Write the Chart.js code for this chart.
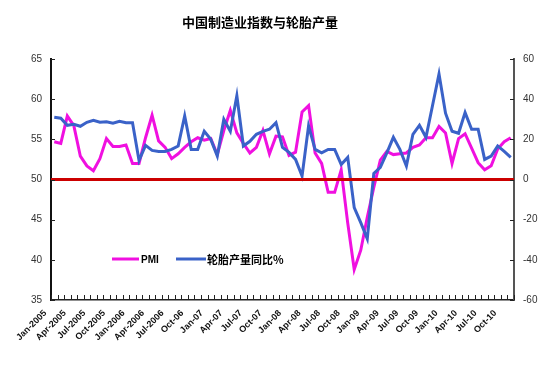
<!DOCTYPE html>
<html>
<head>
<meta charset="utf-8">
<script src="https://cdn.jsdelivr.net/npm/chart.js@4"></script>
<style>
  html, body { margin: 0; padding: 0; background: #fff; }
  #wrap { width: 550px; height: 367px; position: relative; }
</style>
</head>
<body>
<div id="wrap"><canvas id="pmiTyre"></canvas></div>
<script>
// month labels Jan-2005 .. Nov-2010 (format as on the original axis)
const months = [
  'Jan-2005','Feb-2005','Mar-2005','Apr-2005','May-2005','Jun-2005','Jul-2005','Aug-2005','Sep-2005','Oct-2005','Nov-2005','Dec-2005',
  'Jan-2006','Feb-2006','Mar-2006','Apr-2006','May-2006','Jun-2006','Jul-2006','Aug-2006','Sep-2006','Oct-06','Nov-06','Dec-06',
  'Jan-07','Feb-07','Mar-07','Apr-07','May-07','Jun-07','Jul-07','Aug-07','Sep-07','Oct-07','Nov-07','Dec-07',
  'Jan-08','Feb-08','Mar-08','Apr-08','May-08','Jun-08','Jul-08','Aug-08','Sep-08','Oct-08','Nov-08','Dec-08',
  'Jan-09','Feb-09','Mar-09','Apr-09','May-09','Jun-09','Jul-09','Aug-09','Sep-09','Oct-09','Nov-09','Dec-09',
  'Jan-10','Feb-10','Mar-10','Apr-10','May-10','Jun-10','Jul-10','Aug-10','Sep-10','Oct-10','Nov-10'
];

// PMI (left axis)
const pmi = [
  54.7, 54.5, 57.9, 56.7, 52.9, 51.7, 51.1, 52.6, 55.1, 54.1, 54.1, 54.3,
  52.0, 52.0, 55.2, 58.0, 54.8, 54.0, 52.6, 53.2, 54.0, 54.7, 55.2, 54.9,
  55.1, 53.1, 56.1, 58.6, 55.8, 54.5, 53.3, 54.0, 56.1, 53.2, 55.4, 55.3,
  53.0, 53.4, 58.4, 59.2, 53.3, 52.0, 48.4, 48.4, 51.2, 44.6, 38.8, 41.2,
  45.3, 49.0, 52.4, 53.5, 53.1, 53.2, 53.3, 54.0, 54.3, 55.2, 55.2, 56.6,
  55.8, 52.0, 55.1, 55.7, 53.9, 52.1, 51.2, 51.7, 53.8, 54.7, 55.2
];

// 轮胎产量同比% (right axis)
const tyreYoY = [
  31, 30.5, 27, 27.5, 26.5, 28.5, 29.5, 28.5, 28.7, 28, 29, 28.3,
  28.3, 9.5, 17, 14.5, 14, 14, 15, 16.7, 31.7, 15, 15, 24,
  20, 11.7, 30, 24, 41.7, 16.7, 19, 22.5, 24, 25, 28.3, 16,
  13.5, 10, 1.7, 26.7, 15, 13.3, 15, 15, 7.5, 11, -14, -21.5,
  -29.5, 3, 6, 13.3, 21, 15, 6.7, 22.5, 27, 21, 36.7, 52.5,
  33, 24, 23, 33.3, 25, 25, 10, 11.7, 16.7, 14, 11
];

const leftTicks = [35, 40, 45, 50, 55, 60, 65];
const rightTicks = [-60, -40, -20, 0, 20, 40, 60];
const refLine = 50; // 荣枯线

const title = '中国制造业指数与轮胎产量';
const seriesNames = ['PMI', '轮胎产量同比%'];
const colPmi = '#f010e0';
const colTyre = '#3a62c8';

// extra drawing: title, 50 line, inward ticks, legend
const extras = {
  id: 'extras',
  afterDatasetsDraw(chart) {
    const ctx = chart.ctx;
    const a = chart.chartArea;
    const x = chart.scales.x, y = chart.scales.y, y1 = chart.scales.y1;
    ctx.save();
    // reference line
    const ry = y.getPixelForValue(refLine);
    ctx.strokeStyle = '#cc0000';
    ctx.lineWidth = 3;
    ctx.beginPath();
    ctx.moveTo(a.left, ry);
    ctx.lineTo(a.right, ry);
    ctx.stroke();
    // ticks pointing inward
    ctx.strokeStyle = '#222';
    ctx.lineWidth = 1;
    ctx.beginPath();
    leftTicks.forEach(v => {
      const p = Math.round(y.getPixelForValue(v)) + 0.5;
      ctx.moveTo(a.left, p); ctx.lineTo(a.left + 4, p);
    });
    rightTicks.forEach(v => {
      const p = Math.round(y1.getPixelForValue(v)) + 0.5;
      ctx.moveTo(a.right, p); ctx.lineTo(a.right - 4, p);
    });
    const n = months.length;
    for (let i = 0; i <= n; i++) {
      const p = Math.round(x.getPixelForValue(i - 0.5)) + 0.5;
      ctx.moveTo(p, a.bottom); ctx.lineTo(p, a.bottom - 5);
    }
    ctx.stroke();
    // legend
    const ly = 259;
    ctx.lineWidth = 3;
    ctx.strokeStyle = colPmi;
    ctx.beginPath(); ctx.moveTo(112, ly); ctx.lineTo(139, ly); ctx.stroke();
    ctx.strokeStyle = colTyre;
    ctx.beginPath(); ctx.moveTo(176, ly); ctx.lineTo(206, ly); ctx.stroke();
    ctx.fillStyle = '#000';
    ctx.textBaseline = 'middle';
    ctx.textAlign = 'left';
    ctx.font = 'bold 10px "Liberation Sans", Arial, sans-serif';
    ctx.fillText(seriesNames[0], 141, ly + 1);
    ctx.font = 'bold 11px "Noto Sans CJK SC", sans-serif';
    ctx.fillText(seriesNames[1], 207, ly + 1);
    // title
    ctx.font = 'bold 13px "Noto Sans CJK SC", sans-serif';
    ctx.textAlign = 'center';
    ctx.fillText(title, 260, 22);
    ctx.restore();
  }
};

const config = {
  type: 'line',
  data: {
    labels: months,
    datasets: [
      {
        label: seriesNames[0],
        data: pmi,
        yAxisID: 'y',
        borderColor: colPmi,
        borderWidth: 3,
        pointRadius: 0,
        tension: 0,
        order: 2
      },
      {
        label: seriesNames[1],
        data: tyreYoY,
        yAxisID: 'y1',
        borderColor: colTyre,
        borderWidth: 3,
        pointRadius: 0,
        tension: 0,
        order: 1
      }
    ]
  },
  options: {
    responsive: true,
    maintainAspectRatio: false,
    animation: false,
    layout: { padding: { top: 59, left: 0, right: 0, bottom: 0 } },
    plugins: {
      legend: { display: false },
      title: { display: false },
      tooltip: { enabled: false }
    },
    scales: {
      x: {
        type: 'category',
        offset: true,
        afterFit: s => { s.height = 67; },
        grid: { display: false, drawTicks: false },
        border: { display: true, color: '#222', width: 1.5 },
        ticks: {
          autoSkip: false,
          maxRotation: 45,
          minRotation: 45,
          padding: 8,
          labelOffset: -9,
          color: '#111',
          font: { family: '"Liberation Sans", Arial, sans-serif', size: 9, weight: 'bold' },
          callback: (v, i) => (i % 3 === 0 ? months[i] : '')
        }
      },
      y: {
        position: 'left',
        min: 35,
        max: 65,
        afterFit: s => { s.width = 51; },
        afterBuildTicks: s => { s.ticks = leftTicks.map(v => ({ value: v })); },
        grid: { display: false, drawTicks: false },
        border: { display: true, color: '#111', width: 2 },
        ticks: {
          padding: 9,
          color: '#333',
          font: { family: '"Liberation Sans", Arial, sans-serif', size: 10 }
        }
      },
      y1: {
        position: 'right',
        min: -60,
        max: 60,
        afterFit: s => { s.width = 36; },
        afterBuildTicks: s => { s.ticks = rightTicks.map(v => ({ value: v })); },
        grid: { display: false, drawTicks: false },
        border: { display: true, color: '#555', width: 2 },
        ticks: {
          padding: 9,
          color: '#333',
          font: { family: '"Liberation Sans", Arial, sans-serif', size: 10 }
        }
      }
    }
  },
  plugins: [extras]
};

const myChart = new Chart(document.getElementById('pmiTyre'), config);
</script>
</body>
</html>
